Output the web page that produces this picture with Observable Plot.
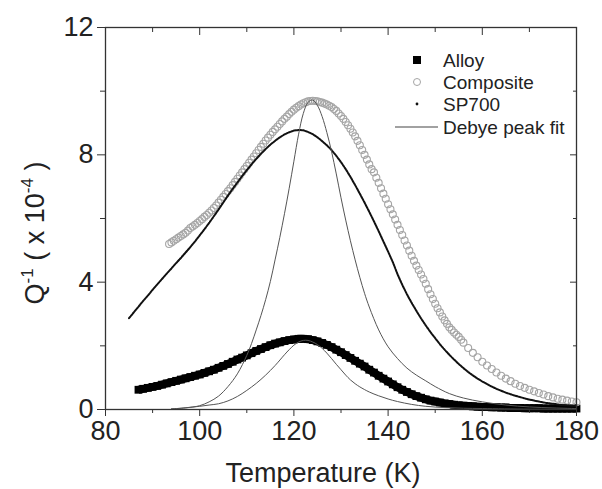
<!DOCTYPE html>
<html><head><meta charset="utf-8">
<script src="https://cdn.jsdelivr.net/npm/d3@7"></script>
<script src="https://cdn.jsdelivr.net/npm/@observablehq/plot@0.6"></script>
<style>body{margin:0;background:#fff}svg{display:block}</style>
</head><body><div id="chart"></div>
<script>
// ---- data (Temperature K, Q^-1 x 1e-4) ----
const alloy = [[87,0.62],[88,0.65],[89,0.68],[90,0.71],[91,0.74],[92,0.78],[93,0.82],[94,0.86],[95,0.90],[96,0.94],[97,0.98],[98,1.02],[99,1.06],[100,1.10],[101,1.15],[102,1.20],[103,1.25],[104,1.31],[105,1.37],[106,1.43],[107,1.50],[108,1.57],[109,1.63],[110,1.70],[111,1.77],[112,1.84],[113,1.90],[114,1.96],[115,2.02],[116,2.07],[117,2.11],[118,2.15],[119,2.18],[120,2.20],[121,2.22],[122,2.22],[123,2.21],[124,2.18],[125,2.14],[126,2.09],[127,2.03],[128,1.96],[129,1.88],[130,1.80],[131,1.71],[132,1.62],[133,1.53],[134,1.44],[135,1.35],[136,1.25],[137,1.16],[138,1.06],[139,0.97],[140,0.88],[141,0.79],[142,0.70],[143,0.62],[144,0.55],[145,0.48],[146,0.42],[147,0.37],[148,0.32],[149,0.28],[150,0.25],[151,0.22],[152,0.19],[153,0.17],[154,0.15],[155,0.13],[156,0.12],[157,0.11],[158,0.10],[159,0.09],[160,0.08],[161,0.08],[162,0.07],[163,0.07],[164,0.06],[165,0.06],[166,0.05],[167,0.05],[168,0.05],[169,0.04],[170,0.04],[171,0.04],[172,0.04],[173,0.03],[174,0.03],[175,0.03],[176,0.03],[177,0.03],[178,0.03],[179,0.03],[180,0.03]];

const composite = [[93.5,5.2],[94,5.25],[94.5,5.3],[95,5.35],[95.5,5.4],[96,5.45],[96.5,5.5],[97,5.55],[97.5,5.62],[98,5.7],[98.5,5.75],[99,5.8],[99.5,5.86],[100,5.92],[100.5,5.98],[101,6.05],[101.5,6.11],[102,6.18],[102.5,6.25],[103,6.33],[103.5,6.41],[104,6.5],[104.5,6.59],[105,6.68],[105.5,6.77],[106,6.86],[106.5,6.95],[107,7.05],[107.5,7.15],[108,7.25],[108.5,7.35],[109,7.45],[109.5,7.55],[110,7.65],[110.5,7.75],[111,7.85],[111.5,7.95],[112,8.05],[112.5,8.15],[113,8.25],[113.5,8.35],[114,8.45],[114.5,8.54],[115,8.63],[115.5,8.72],[116,8.8],[116.5,8.88],[117,8.97],[117.5,9.05],[118,9.13],[118.5,9.2],[119,9.28],[119.5,9.35],[120,9.42],[120.5,9.48],[121,9.53],[121.5,9.58],[122,9.62],[122.5,9.65],[123,9.68],[123.5,9.69],[124,9.7],[124.5,9.69],[125,9.68],[125.5,9.66],[126,9.64],[126.5,9.61],[127,9.58],[127.5,9.54],[128,9.5],[128.5,9.44],[129,9.38],[129.5,9.3],[130,9.22],[130.5,9.13],[131,9.03],[131.5,8.93],[132,8.82],[132.5,8.7],[133,8.58],[133.5,8.44],[134,8.3],[134.5,8.15],[135,8.0],[135.5,7.85],[136,7.7],[136.5,7.55],[137,7.45],[137.5,7.28],[138,7.12],[138.5,6.95],[139,6.78],[139.5,6.62],[140,6.45],[140.5,6.29],[141,6.13],[141.5,5.97],[142,5.8],[142.5,5.64],[143,5.48],[143.5,5.31],[144,5.15],[144.5,4.99],[145,4.83],[145.5,4.67],[146,4.52],[146.5,4.38],[147,4.24],[147.5,4.1],[148,3.95],[148.5,3.78],[149,3.62],[149.5,3.47],[150,3.32],[150.5,3.18],[151,3.05],[151.5,2.92],[152,2.8],[152.5,2.69],[153,2.58],[153.5,2.5],[154,2.42],[154.5,2.35],[155,2.28],[155.5,2.19],[156,2.1],[157,1.93],[158,1.78],[159,1.64],[160,1.5],[161,1.38],[162,1.27],[163,1.16],[164,1.06],[165,0.97],[166,0.89],[167,0.81],[168,0.74],[169,0.68],[170,0.62],[171,0.57],[172,0.52],[173,0.47],[174,0.42],[175,0.38],[176,0.34],[177,0.31],[178,0.28],[179,0.25],[180,0.23]];

const sp700 = [[85,2.87],[86,3.05],[87,3.23],[88,3.41],[89,3.58],[90,3.76],[91,3.93],[92,4.1],[93,4.27],[94,4.43],[95,4.6],[96,4.76],[97,4.93],[98,5.1],[99,5.28],[100,5.47],[101,5.66],[102,5.86],[103,6.07],[104,6.28],[105,6.5],[106,6.72],[107,6.93],[108,7.13],[109,7.33],[110,7.52],[111,7.7],[112,7.87],[113,8.03],[114,8.18],[115,8.32],[116,8.44],[117,8.55],[118,8.64],[119,8.71],[120,8.76],[121,8.78],[122,8.77],[123,8.72],[124,8.65],[125,8.55],[126,8.43],[127,8.3],[128,8.15],[129,7.97],[130,7.77],[131,7.55],[132,7.31],[133,7.05],[134,6.78],[135,6.5],[136,6.21],[137,5.91],[138,5.6],[139,5.28],[140,4.96],[141,4.63],[142,4.25],[143,3.92],[144,3.62],[145,3.35],[146,3.1],[147,2.86],[148,2.64],[149,2.43],[150,2.24],[151,2.05],[152,1.88],[153,1.72],[154,1.57],[155,1.43],[156,1.3],[157,1.18],[158,1.07],[159,0.97],[160,0.88],[161,0.8],[162,0.72],[163,0.65],[164,0.59],[165,0.53],[166,0.48],[167,0.43],[168,0.39],[169,0.35],[170,0.31],[171,0.28],[172,0.25],[173,0.22],[174,0.2],[175,0.18],[176,0.16],[177,0.14],[178,0.13],[179,0.12],[180,0.11]];

const fitComposite = [[94,0.02],[97,0.05],[100,0.12],[102,0.24],[104,0.42],[106,0.72],[108,1.12],[110,1.7],[111,2.07],[112,2.5],[113,2.95],[114,3.45],[115,4.02],[116,4.7],[117,5.4],[118,6.15],[119,6.95],[120,7.8],[121,8.65],[122,9.3],[123,9.65],[124,9.72],[125,9.55],[126,9.2],[127,8.7],[128,8.1],[129,7.4],[130,6.65],[131,5.95],[132,5.3],[133,4.7],[134,4.15],[135,3.65],[136,3.22],[138,2.5],[140,1.97],[142,1.6],[144,1.3],[146,1.08],[148,0.9],[150,0.72],[153,0.5],[156,0.36],[160,0.24],[165,0.14],[170,0.08],[175,0.05],[180,0.03]];

const fitAlloy = [[94,0.02],[96,0.04],[98,0.07],[100,0.1],[102,0.14],[104,0.18],[106,0.27],[108,0.41],[110,0.6],[112,0.82],[114,1.08],[116,1.38],[118,1.72],[119,1.88],[120,2.02],[121,2.12],[122,2.17],[123,2.17],[124,2.12],[125,2.04],[126,1.92],[127,1.77],[128,1.6],[129,1.42],[130,1.25],[131,1.08],[132,0.93],[133,0.81],[134,0.71],[136,0.55],[138,0.43],[140,0.33],[142,0.25],[145,0.16],[148,0.1],[152,0.06],[156,0.04],[160,0.03],[170,0.01],[180,0.01]];

const xMajor = [80, 100, 120, 140, 160, 180];
const xMinor = [90, 110, 130, 150, 170];
const yMajor = [0, 4, 8, 12];
const yMinor = [2, 6, 10];
const legendLabels = ["Alloy", "Composite", "SP700", "Debye peak fit"];
const xTitle = "Temperature (K)";

const rows = a => a.map(([T, Q]) => ({T, Q}));
const FONT = "'Liberation Sans', Arial, Helvetica, sans-serif";
const INK = "#222";

const plot = Plot.plot({
  width: 602, height: 489,
  marginLeft: 105, marginRight: 26, marginTop: 27, marginBottom: 80,
  x: {domain: [80, 180]},
  y: {domain: [0, 12]},
  style: {fontFamily: FONT, background: "#fff", color: INK},
  marks: [
    Plot.line(rows(alloy), {x: "T", y: "Q", stroke: "#000", strokeWidth: 8, strokeLinecap: "butt"}),
    Plot.dot(rows(alloy), {x: "T", y: "Q", symbol: "square", r: 4.4, fill: "#000", stroke: "none"}),
    Plot.dot(rows(composite), {x: "T", y: "Q", r: 3.5, fill: "none", stroke: "#a5a5a5", strokeWidth: 1.1}),
    Plot.line(rows(sp700), {x: "T", y: "Q", stroke: "#111", strokeWidth: 2, strokeDasharray: "2,1"}),
    Plot.line(rows(fitComposite), {x: "T", y: "Q", stroke: "#555", strokeWidth: 1, curve: "catmull-rom"}),
    Plot.line(rows(fitAlloy), {x: "T", y: "Q", stroke: "#555", strokeWidth: 1, curve: "catmull-rom"}),
    Plot.frame({stroke: "#333", strokeWidth: 1.3}),
    Plot.axisX({ticks: xMajor, tickSize: 7, tickPadding: 4, fontSize: 27, label: null, stroke: "#333", fill: INK}),
    Plot.axisX({ticks: xMinor, tickSize: 4, fill: "none", label: null, stroke: "#333"}),
    Plot.axisX({anchor: "top", ticks: xMajor, tickSize: -7, fill: "none", label: null, stroke: "#333"}),
    Plot.axisX({anchor: "top", ticks: xMinor, tickSize: -4, fill: "none", label: null, stroke: "#333"}),
    Plot.axisY({ticks: yMajor, tickSize: 8, tickPadding: 4, fontSize: 27, label: null, stroke: "#333", fill: INK}),
    Plot.axisY({ticks: yMinor, tickSize: 5, fill: "none", label: null, stroke: "#333"}),
    Plot.axisY({anchor: "right", ticks: yMajor, tickSize: -7, fill: "none", label: null, stroke: "#333"}),
    Plot.axisY({anchor: "right", ticks: yMinor, tickSize: -4, fill: "none", label: null, stroke: "#333"})
  ]
});
document.getElementById("chart").appendChild(plot);

const svg = d3.select(plot);
// x-axis title
svg.append("text").attr("x", 323).attr("y", 482).attr("text-anchor", "middle")
  .attr("font-size", 27).attr("font-family", FONT).attr("fill", INK).text(xTitle);
// y-axis title with superscripts
const yt = svg.append("text").attr("transform", "translate(44,233) rotate(-90)")
  .attr("text-anchor", "middle").attr("font-size", 27).attr("font-family", FONT).attr("fill", INK);
yt.append("tspan").text("Q");
yt.append("tspan").attr("font-size", 17).attr("dy", -11).text("-1");
yt.append("tspan").attr("dy", 11).text(" ( x 10");
yt.append("tspan").attr("font-size", 17).attr("dy", -11).text("-4");
yt.append("tspan").attr("dy", 11).text(" )");

// legend
const lg = svg.append("g").attr("font-family", FONT).attr("font-size", 19).attr("fill", INK).attr("text-anchor", "start");
const ly = [60, 82, 104, 127];
lg.append("rect").attr("x", 413).attr("y", ly[0] - 4).attr("width", 8).attr("height", 8).attr("fill", "#000");
lg.append("circle").attr("cx", 417).attr("cy", ly[1]).attr("r", 3.5).attr("fill", "none").attr("stroke", "#a5a5a5");
lg.append("circle").attr("cx", 417).attr("cy", ly[2]).attr("r", 1.4).attr("fill", "#111");
lg.append("line").attr("x1", 395).attr("x2", 438).attr("y1", ly[3]).attr("y2", ly[3]).attr("stroke", "#444").attr("stroke-width", 1.2);
legendLabels.forEach((t, i) => {
  lg.append("text").attr("x", 443).attr("y", ly[i] + 6.5).attr("text-anchor", "start").text(t);
});
</script>
</body></html>
